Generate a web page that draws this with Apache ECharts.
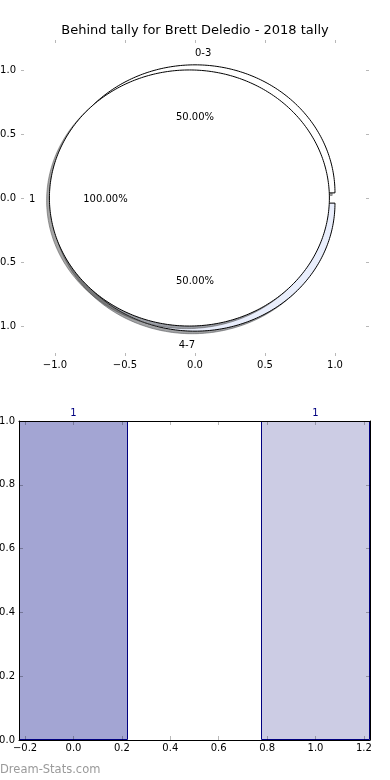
<!DOCTYPE html>
<html><head><meta charset="utf-8">
<script src="https://cdn.jsdelivr.net/npm/echarts@6/dist/echarts.min.js"></script>
<style>html,body{margin:0;padding:0;background:#fff}#c{width:390px;height:780px}</style>
</head><body><div id="c"></div>
<script>
// ---- data ----
const titleText = 'Behind tally for Brett Deledio - 2018 tally';
const outerLabels = ['0-3', '4-7'];
const outerValues = [1, 1];
const outerColors = ['#ffffff', '#e9eefc'];
const innerLabels = ['1'];
const innerValues = [1];
const innerColors = ['#ffffff'];
const pieTicks = [-1, -0.5, 0, 0.5, 1];
const barPositions = [0, 1];
const barValues = [1, 1];
const barColors = ['#a3a5d3', '#cccce4'];
const barXTicks = [-0.2, 0, 0.2, 0.4, 0.6, 0.8, 1.0, 1.2];

// ---- style / geometry constants ----
const FONT = '"DejaVu Sans", sans-serif';
const PIE_R = 1, EXPLODE = 0.04, LABEL_D = 1.1, PCT_D = 0.6, SHADOW = 0.02;
const BAR_W = 0.45;
const fmt = v => (Math.abs(v) < 1e-9 ? 0 : v).toFixed(1).replace('-', '\u2212');

function shade(hex) {
  const n = parseInt(hex.slice(1), 16);
  const r = Math.round(((n >> 16) & 255) * 0.3), g = Math.round(((n >> 8) & 255) * 0.3), b = Math.round((n & 255) * 0.3);
  return 'rgba(' + r + ',' + g + ',' + b + ',0.5)';
}

function makePieRender(labels, values, colors, mode) {
  const total = values.reduce((a, b) => a + b, 0);
  const starts = []; let acc = 0;
  values.forEach(v => { starts.push(acc); acc += v; });
  return function (params, api) {
    const i = params.dataIndex;
    const v = api.value(0);
    const a0 = starts[i] / total * 2 * Math.PI;
    const a1 = (starts[i] + v) / total * 2 * Math.PI;
    const mid = (a0 + a1) / 2;
    const cx = EXPLODE * Math.cos(mid), cy = EXPLODE * Math.sin(mid);
    if (mode === 'text') {
      const xt = cx + LABEL_D * PIE_R * Math.cos(mid), yt = cy + LABEL_D * PIE_R * Math.sin(mid);
      const lp = api.coord([xt, yt]);
      const pp = api.coord([cx + PCT_D * PIE_R * Math.cos(mid), cy + PCT_D * PIE_R * Math.sin(mid)]);
      return {
        type: 'group',
        children: [
          { type: 'text', x: lp[0], y: lp[1] + 1, style: { text: labels[i], fill: '#000', font: '10px ' + FONT, align: xt > 0 ? 'left' : 'right', verticalAlign: 'middle' } },
          { type: 'text', x: pp[0], y: pp[1] + 1, style: { text: (v / total * 100).toFixed(2) + '%', fill: '#000', font: '10px ' + FONT, align: 'center', verticalAlign: 'middle' } }
        ]
      };
    }
    const full = Math.abs((a1 - a0) - 2 * Math.PI) < 1e-9;
    const pts = (ox, oy) => {
      const out = [];
      if (!full) out.push(api.coord([cx + ox, cy + oy]));
      const n = Math.max(8, Math.ceil((a1 - a0) / (2 * Math.PI) * 360));
      for (let k = 0; k <= n; k++) {
        const a = a0 + (a1 - a0) * k / n;
        out.push(api.coord([cx + ox + PIE_R * Math.cos(a), cy + oy + PIE_R * Math.sin(a)]));
      }
      return out;
    };
    const sc = shade(colors[i]);
    return {
      type: 'group',
      children: [
        { type: 'polygon', shape: { points: pts(-SHADOW, -SHADOW) }, style: { fill: sc, stroke: sc, lineWidth: 1 } },
        { type: 'polygon', shape: { points: pts(0, 0) }, style: { fill: colors[i], stroke: '#000', lineWidth: 1 } }
      ]
    };
  };
}

function renderBar(params, api) {
  const x = api.value(0), v = api.value(1);
  const p0 = api.coord([x - BAR_W / 2, v]);
  const p1 = api.coord([x + BAR_W / 2, 0]);
  const top = api.coord([x, v]);
  const x0 = Math.round(p0[0]) + 0.5, x1 = Math.round(p1[0]) - 0.5;
  const y0 = Math.round(p0[1]) + 0.5, y1 = Math.round(p1[1]) - 0.5;
  return {
    type: 'group',
    children: [
      { type: 'rect', shape: { x: x0, y: y0, width: x1 - x0, height: y1 - y0 }, style: { fill: barColors[params.dataIndex], stroke: '#000080', lineWidth: 1 } },
      { type: 'text', x: top[0], y: top[1] - 3, style: { text: String(v), fill: '#000080', font: '10px ' + FONT, align: 'center', verticalAlign: 'bottom' } }
    ]
  };
}

const tickGray = { color: 'rgba(0,0,0,0.28)', width: 1 };
const pieX = { type: 'value', min: -1.243, max: 1.243, gridIndex: 0, splitLine: { show: false }, axisLine: { show: false, onZero: false }, z: 10 };
const pieY = { type: 'value', min: -1.234, max: 1.234, gridIndex: 0, splitLine: { show: false }, axisLine: { show: false, onZero: false }, z: 10 };
const barX = { type: 'value', min: -0.225, max: 1.225, gridIndex: 1, splitLine: { show: false }, axisLine: { show: true, onZero: false, lineStyle: { color: '#000', width: 1 } }, z: 10 };
const barY = { type: 'value', min: 0, max: 1, interval: 0.2, gridIndex: 1, splitLine: { show: false }, axisLine: { show: true, onZero: false, lineStyle: { color: '#000', width: 1 } }, z: 10 };

const option = {
  animation: false,
  textStyle: { fontFamily: FONT },
  title: { text: titleText, left: 'center', top: 24, padding: 0, textStyle: { fontSize: 13, fontWeight: 'normal', color: '#000', fontFamily: FONT } },
  grid: [
    { left: 21, right: 21, top: 40, height: 316, containLabel: false, outerBoundsMode: 'none' },
    { left: 19, right: 20, top: 421, height: 319, containLabel: false, outerBoundsMode: 'none' }
  ],
  xAxis: [
    Object.assign({}, pieX, { position: 'bottom', axisTick: { show: true, inside: true, length: 3, lineStyle: tickGray, customValues: pieTicks }, axisLabel: { show: true, customValues: pieTicks, formatter: fmt, fontSize: 10, color: '#000', margin: 4, fontFamily: FONT } }),
    Object.assign({}, pieX, { position: 'top', axisTick: { show: true, inside: true, length: 3, lineStyle: tickGray, customValues: pieTicks }, axisLabel: { show: false } }),
    Object.assign({}, barX, { position: 'bottom', axisTick: { show: true, inside: true, length: 4, lineStyle: tickGray, customValues: barXTicks }, axisLabel: { show: true, customValues: barXTicks, formatter: fmt, fontSize: 10, color: '#000', margin: 3, fontFamily: FONT } }),
    Object.assign({}, barX, { position: 'top', axisTick: { show: true, inside: true, length: 4, lineStyle: tickGray, customValues: barXTicks }, axisLabel: { show: false } })
  ],
  yAxis: [
    Object.assign({}, pieY, { position: 'left', axisTick: { show: true, inside: true, length: 3, lineStyle: tickGray, customValues: pieTicks }, axisLabel: { show: true, customValues: pieTicks, formatter: fmt, fontSize: 10, color: '#000', margin: 5, fontFamily: FONT } }),
    Object.assign({}, pieY, { position: 'right', axisTick: { show: true, inside: true, length: 3, lineStyle: tickGray, customValues: pieTicks }, axisLabel: { show: false } }),
    Object.assign({}, barY, { position: 'left', axisTick: { show: true, inside: true, length: 4, lineStyle: tickGray }, axisLabel: { show: true, formatter: fmt, fontSize: 10, color: '#000', margin: 4, fontFamily: FONT } }),
    Object.assign({}, barY, { position: 'right', axisTick: { show: true, inside: true, length: 4, lineStyle: tickGray }, axisLabel: { show: false } })
  ],
  series: [
    { type: 'custom', xAxisIndex: 0, yAxisIndex: 0, silent: true, clip: false, z: 2,
      data: outerValues.map(v => [v, 0]), renderItem: makePieRender(outerLabels, outerValues, outerColors, 'shape') },
    { type: 'custom', xAxisIndex: 0, yAxisIndex: 0, silent: true, clip: false, z: 3,
      data: innerValues.map(v => [v, 0]), renderItem: makePieRender(innerLabels, innerValues, innerColors, 'shape') },
    { type: 'custom', xAxisIndex: 0, yAxisIndex: 0, silent: true, clip: false, z: 5,
      data: outerValues.map(v => [v, 0]), renderItem: makePieRender(outerLabels, outerValues, outerColors, 'text') },
    { type: 'custom', xAxisIndex: 0, yAxisIndex: 0, silent: true, clip: false, z: 5,
      data: innerValues.map(v => [v, 0]), renderItem: makePieRender(innerLabels, innerValues, innerColors, 'text') },
    { type: 'custom', xAxisIndex: 2, yAxisIndex: 2, silent: true, clip: false, z: 2,
      data: barPositions.map((x, i) => [x, barValues[i]]), renderItem: renderBar }
  ],
  graphic: [
    { type: 'text', left: 0, top: 764, style: { text: 'Dream-Stats.com', fill: '#9a9a9a', font: '11.5px ' + FONT } }
  ]
};
const chart = echarts.init(document.getElementById('c'), null, { renderer: 'canvas' });
chart.setOption(option);
</script>
</body></html>
